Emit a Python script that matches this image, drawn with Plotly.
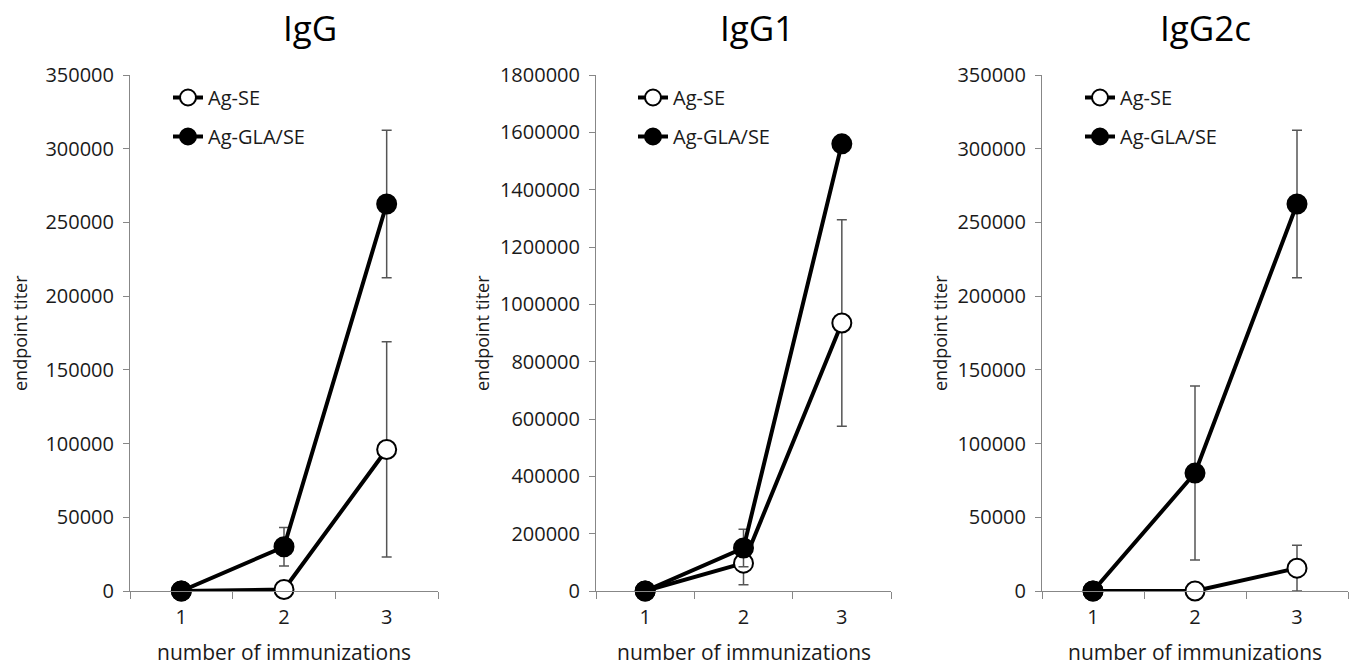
import plotly.graph_objects as go

# ---------------- data ----------------
immunizations = ["1", "2", "3"]
series_names = ["Ag-SE", "Ag-GLA/SE"]
panel_titles = ["IgG", "IgG1", "IgG2c"]

igg_se = [0, 1000, 96000]
igg_se_err = [0, 0, 73000]
igg_gla = [0, 30000, 262500]
igg_gla_err = [0, 13000, 50000]

igg1_se = [0, 97000, 935000]
igg1_se_err = [0, 75000, 360000]
igg1_gla = [0, 150000, 1560000]
igg1_gla_err = [0, 65000, 0]

igg2c_se = [0, 0, 15500]
igg2c_se_err = [0, 0, 15500]
igg2c_gla = [0, 80000, 262500]
igg2c_gla_err = [0, 59000, 50000]

y_max = [350000, 1800000, 350000]
y_step = [50000, 200000, 50000]

x_title = "number of immunizations"
y_title = "endpoint titer"

# ---------------- layout helpers ----------------
W, H = 1356, 665
T, B = 75, 74
PH = H - T - B
FONT = "Open Sans"
TXT = "#1a1a1a"
AXC = "#878787"

def px(x):
    return x / W

def py(y):
    return (H - B - y) / PH

x_domains = [(130, 438), (596, 891), (1042, 1348)]
title_x = [310, 757, 1205]
ytitle_x = [20, 482, 940]
legend_x = [168, 633, 1080]

panels = [
    (igg_se, igg_se_err, igg_gla, igg_gla_err),
    (igg1_se, igg1_se_err, igg1_gla, igg1_gla_err),
    (igg2c_se, igg2c_se_err, igg2c_gla, igg2c_gla_err),
]

fig = go.Figure()
annotations = []
for i, (se, se_e, gla, gla_e) in enumerate(panels):
    sfx = "" if i == 0 else str(i + 1)
    leg = "legend" if i == 0 else f"legend{i+1}"
    for name, vals, errs, fill in [
        (series_names[0], se, se_e, "white"),
        (series_names[1], gla, gla_e, "black"),
    ]:
        fig.add_trace(go.Scatter(
            x=immunizations, y=vals, name=name, mode="lines+markers",
            xaxis="x" + sfx, yaxis="y" + sfx, legend=leg, legendgroup=f"{name}{i}",
            line=dict(color="black", width=4),
            marker=dict(size=19, color=fill, line=dict(color="black", width=2)),
            error_y=dict(type="data", array=errs, visible=True,
                         color="#555555", thickness=1.5, width=5),
            cliponaxis=False,
        ))
    d0, d1 = x_domains[i]
    fig.layout["xaxis" + sfx] = dict(
        domain=[px(d0), px(d1)], anchor="y" + sfx, type="category",
        range=[-0.5, 2.5], tickson="boundaries", ticks="outside", ticklen=7,
        tickcolor=AXC, showline=True, linecolor=AXC, linewidth=1,
        showgrid=False, zeroline=False, ticklabelstandoff=8,
        tickfont=dict(family=FONT, size=20, color=TXT),
    )
    fig.layout["yaxis" + sfx] = dict(
        domain=[0, 1], anchor="x" + sfx, range=[0, y_max[i]], dtick=y_step[i],
        tick0=0, tickformat="d", ticks="outside", ticklen=6, tickcolor=AXC,
        showline=True, linecolor=AXC, linewidth=1, showgrid=False, zeroline=False,
        ticklabelstandoff=5, tickfont=dict(family=FONT, size=20, color=TXT),
    )
    fig.layout[leg] = dict(
        x=px(legend_x[i]), y=py(78), xanchor="left", yanchor="top",
        bgcolor="rgba(0,0,0,0)", font=dict(family=FONT, size=20, color=TXT),
        tracegroupgap=10, itemwidth=30,
    )
    annotations.append(dict(text=panel_titles[i], x=px(title_x[i]), y=py(27),
                            xref="paper", yref="paper", showarrow=False,
                            xanchor="center", yanchor="middle",
                            font=dict(family=FONT, size=35, color="black")))
    annotations.append(dict(text=x_title, x=px((d0 + d1) / 2), y=py(652),
                            xref="paper", yref="paper", showarrow=False,
                            xanchor="center", yanchor="middle",
                            font=dict(family=FONT, size=21, color=TXT)))
    annotations.append(dict(text=y_title, x=px(ytitle_x[i]), y=py(333),
                            xref="paper", yref="paper", showarrow=False, textangle=-90,
                            xanchor="center", yanchor="middle",
                            font=dict(family=FONT, size=18, color=TXT)))

fig.update_layout(
    width=W, height=H, margin=dict(l=0, r=0, t=T, b=B),
    plot_bgcolor="white", paper_bgcolor="white",
    annotations=annotations, showlegend=True,
)
fig.write_html("out.html", config={"displayModeBar": False})

# remove the default page margin so the figure sits at the window's top-left corner
with open("out.html", "r", encoding="utf-8") as f:
    html = f.read()
html = html.replace("<head>", "<head><style>html,body{margin:0;padding:0;overflow:hidden}</style>", 1)
with open("out.html", "w", encoding="utf-8") as f:
    f.write(html)
